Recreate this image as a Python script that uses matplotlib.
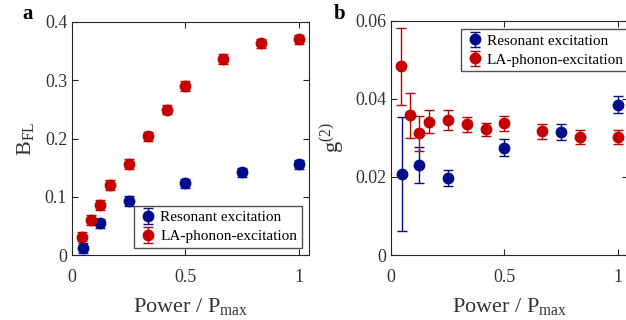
import numpy as np
from matplotlib import pyplot as plt
from matplotlib.ticker import FormatStrFormatter

BLUE = "#000c8c"
RED = "#c40000"
INK = "#333333"

plt.rcParams['font.family'] = ['Liberation Serif', 'DejaVu Serif']
plt.rcParams['mathtext.fontset'] = 'custom'
plt.rcParams['mathtext.rm'] = 'Liberation Serif'
plt.rcParams['mathtext.it'] = 'Liberation Serif'

# power values (P / Pmax)
res_power = [0.05, 0.125, 0.25, 0.5, 0.75, 1.0]
la_power = [0.042, 0.083, 0.125, 0.167, 0.25, 0.333, 0.417, 0.5, 0.667, 0.833, 1.0]

# panel a: B_FL
res_bfl = [0.012, 0.0545, 0.0927, 0.1229, 0.1417, 0.1559]
res_bfl_err = [0.008, 0.008, 0.008, 0.008, 0.008, 0.008]
la_bfl = [0.0316, 0.060, 0.0858, 0.120, 0.156, 0.2037, 0.2494, 0.2904, 0.3366, 0.3633, 0.370]
la_bfl_err = [0.008, 0.008, 0.008, 0.008, 0.008, 0.008, 0.008, 0.008, 0.008, 0.008, 0.008]

# panel b: g2
res_g2 = [0.0208, 0.0230, 0.0197, 0.0275, 0.0315, 0.0385]
res_g2_err = [0.0146, 0.0046, 0.0020, 0.0021, 0.0021, 0.0021]
la_g2 = [0.0483, 0.0357, 0.0311, 0.0341, 0.0345, 0.0334, 0.0322, 0.0337, 0.0316, 0.0302, 0.0302]
la_g2_err = [0.0098, 0.0057, 0.0044, 0.0030, 0.0026, 0.0020, 0.0017, 0.0019, 0.0018, 0.0018, 0.0018]


def style_axis(ax):
    ax.tick_params(direction='in', top=True, right=True, labelsize=13,
                   colors='#262626', labelcolor=INK, length=4, width=0.8)
    ax.tick_params(axis='x', pad=10)
    for s in ax.spines.values():
        s.set_color('#262626')
        s.set_linewidth(0.8)
    ax.set_xlim(0, 1.045)
    ax.set_xticks([0, 0.5, 1])
    ax.xaxis.set_major_formatter(FormatStrFormatter('%g'))
    ax.yaxis.set_major_formatter(FormatStrFormatter('%g'))
    ax.set_xlabel(r'Power / P$_\mathregular{max}$', fontsize=16, color=INK, labelpad=7)


def draw(ax, yres, eres, yla, ela):
    kw = dict(fmt='o', markersize=7.5, elinewidth=1, capsize=3.5, capthick=1)
    ax.errorbar(res_power, yres, yerr=eres, color=BLUE, label='Resonant excitation', **kw)
    ax.errorbar(la_power, yla, yerr=ela, color=RED, label='LA-phonon-excitation', **kw)


leg_kw = dict(fontsize=11, frameon=True, fancybox=False, edgecolor='#262626',
              handletextpad=0.2, borderpad=0.3, labelspacing=0.35,
              handlelength=1.2, borderaxespad=0)

fig = plt.figure(figsize=(6.26, 3.2), dpi=100)
ax1 = fig.add_axes([72 / 626, 1 - 255 / 320, 237 / 626, 233 / 320])
ax2 = fig.add_axes([391 / 626, 1 - 255 / 320, 237 / 626, 234.5 / 320])

draw(ax1, res_bfl, res_bfl_err, la_bfl, la_bfl_err)
style_axis(ax1)
ax1.set_ylim(0, 0.4)
ax1.set_yticks([0, 0.1, 0.2, 0.3, 0.4])
ax1.set_ylabel(r'B$_\mathregular{FL}$', fontsize=16, color=INK, labelpad=6)
ax1.legend(loc='lower right', bbox_to_anchor=(0.97, 0.03), **leg_kw)

draw(ax2, res_g2, res_g2_err, la_g2, la_g2_err)
style_axis(ax2)
ax2.set_ylim(0, 0.06)
ax2.set_yticks([0, 0.02, 0.04, 0.06])
ax2.set_ylabel(r'g$^\mathregular{(2)}$', fontsize=16, color=INK, labelpad=5)
ax2.legend(loc='upper left', bbox_to_anchor=(0.295, 0.962), **leg_kw)

fig.text(22 / 626, 1 - 14 / 320, 'a', fontsize=15, fontweight='bold', va='center')
fig.text(334 / 626, 1 - 14 / 320, 'b', fontsize=15, fontweight='bold', va='center')

fig.savefig('out.png', dpi=100)
